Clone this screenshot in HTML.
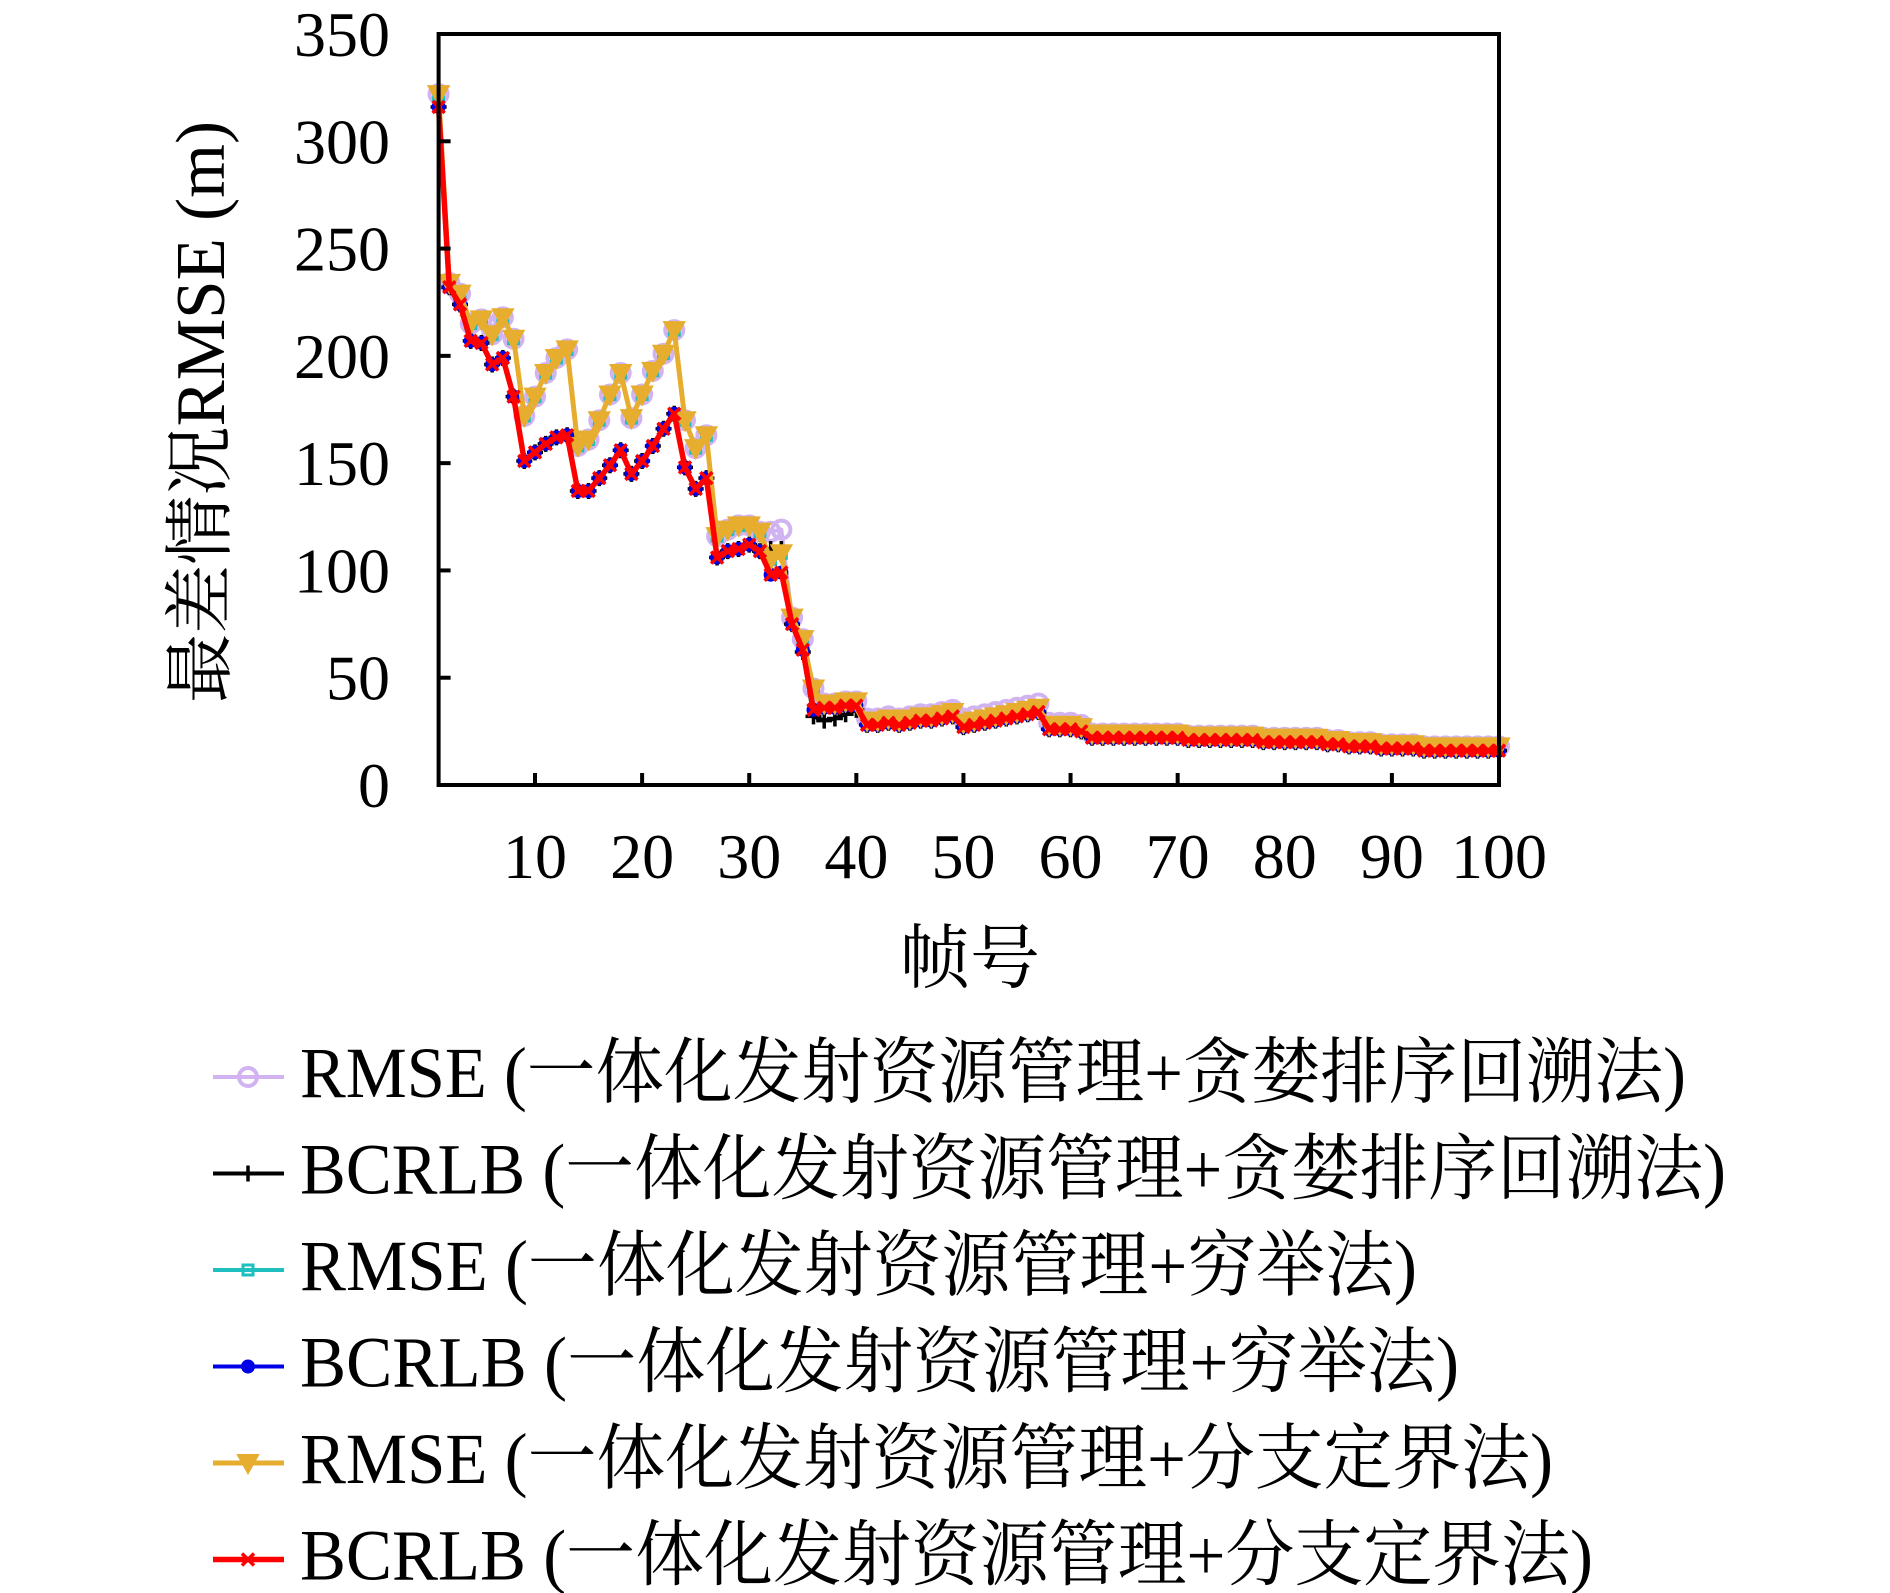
<!DOCTYPE html>
<html><head><meta charset="utf-8"><style>
html,body{margin:0;padding:0;background:#fff;}
svg{display:block;}
text{font-family:"Liberation Serif","Noto Serif CJK SC","Noto Sans CJK SC",serif;fill:#000;}
</style></head><body>
<svg id="chart" width="1890" height="1593" viewBox="0 0 1890 1593" xmlns="http://www.w3.org/2000/svg">
<g id="plot"></g>
<g id="axes"></g>
<g id="legend"></g>
</svg>
<script>
const yTicks = [0,50,100,150,200,250,300,350];
const xTicks = [10,20,30,40,50,60,70,80,90,100];
const tailRed = [28,28,29,28,29,30,30,31,32,27,28,29,30,31,32,33,34,26,26,26,25,22,22,22,22,22,22,22,22,22,21,21,21,21,21,21,21,20,20,20,20,20,20,19,19,18,18,18,17,17,17,17,16,16,16,16,16,16,16,16];
const bcrlbBB = [316,232,224,207,206,196,199,181,151,155,159,162,163,137,137,143,149,156,145,151,158,166,173,148,138,143,106,109,110,112,109,98,99,75,63,35,36,36,37,37].concat(tailRed);
const rmseBB = [322,234,229,215,217,210,218,208,172,181,192,199,203,158,161,170,182,192,171,182,193,201,212,170,157,163,116,119,121,121,118,105,108,78,68,45,38,38,39,39,30,30,31,30,31,32,32,33,34,29,30,31,32,33,34,35,36,28,28,28,27,24,24,24,24,24,24,24,24,24,23,23,23,23,23,23,23,22,22,22,22,22,22,21,21,20,20,20,19,19,19,19,18,18,18,18,18,18,18,18];
const rmseEx = [321,234,229,215,217,210,218,208,172,181,192,199,203,158,161,170,182,192,171,182,193,201,212,170,157,163,116,119,121,121,118,105,108,78,68,45,38,38,39,39,30,30,31,30,31,32,32,33,34,29,30,31,32,33,34,35,36,28,28,28,27,24,24,24,24,24,24,24,24,24,23,23,23,23,23,23,23,22,22,22,22,22,22,21,21,20,20,20,19,19,19,19,18,18,18,18,18,18,18,18];
const bcrlbEx = [316,232,224,207,206,196,199,181,151,155,159,162,163,137,137,143,149,156,145,151,158,166,173,148,138,143,106,109,110,112,109,98,99,75,63,35,36,36,37,37].concat(tailRed);
const rmseGr = [322,234,229,215,217,210,218,208,172,181,192,199,203,158,161,170,182,192,171,182,193,201,212,170,157,163,116,119,121,121,118,118,119,78,68,45,38,38,39,39,31,31,32,31,32,33,33,34,35,31,32,33,34,35,36,37,38,29,29,29,28,24,24,24,24,24,24,24,24,24,23,23,23,23,23,23,23,22,22,22,22,22,22,21,21,20,20,20,19,19,19,19,18,18,18,18,18,18,18,18];
const bcrlbGr = [316,232,224,207,206,196,199,181,151,155,159,162,163,137,137,143,149,156,145,151,158,166,173,148,138,143,106,109,110,112,109,110,110,75,62,32,30,31,33,35].concat(tailRed);
const seriesLabels = ["RMSE (一体化发射资源管理+贪婪排序回溯法)","BCRLB (一体化发射资源管理+贪婪排序回溯法)","RMSE (一体化发射资源管理+穷举法)","BCRLB (一体化发射资源管理+穷举法)","RMSE (一体化发射资源管理+分支定界法)","BCRLB (一体化发射资源管理+分支定界法)"];

const NS="http://www.w3.org/2000/svg";
const L=438.6,R=1499,T=34,B=785;
function xs(v){return L+(v-1)*(R-L)/99;}
function ys(v){return B-v*(B-T)/350;}
function mk(tag,attrs,parent){const e=document.createElementNS(NS,tag);for(const k in attrs)e.setAttribute(k,attrs[k]);parent.appendChild(e);return e;}
const plot=document.getElementById('plot'),axes=document.getElementById('axes'),legend=document.getElementById('legend');

function marker(type,color,x,y,g){
  let e;
  if(type==='circle'){e=mk('circle',{cx:x,cy:y,r:9,fill:'none',stroke:color,'stroke-width':4},g);}
  else if(type==='plus'){e=mk('path',{d:`M${x-8} ${y}H${x+8}M${x} ${y-8}V${y+8}`,stroke:color,'stroke-width':3.5},g);}
  else if(type==='square'){e=mk('rect',{x:x-5,y:y-5,width:10,height:10,fill:'none',stroke:color,'stroke-width':3},g);}
  else if(type==='dot'){e=mk('circle',{cx:x,cy:y,r:7,fill:color},g);}
  else if(type==='tri'){e=mk('path',{d:`M${x-10} ${y-8}L${x+10} ${y-8}L${x} ${y+10}Z`,fill:color,stroke:color,'stroke-width':2},g);}
  else {e=mk('path',{d:`M${x-6} ${y-6}L${x+6} ${y+6}M${x-6} ${y+6}L${x+6} ${y-6}`,stroke:color,'stroke-width':3.5},g);}
  return e;
}
const series=[
 {d:rmseGr,c:'#d1b3f2',m:'circle',w:4},
 {d:bcrlbGr,c:'#000000',m:'plus',w:4},
 {d:rmseEx,c:'#1fbfbf',m:'square',w:4},
 {d:bcrlbEx,c:'#0000e6',m:'dot',w:4},
 {d:rmseBB,c:'#e6ad2e',m:'tri',w:5},
 {d:bcrlbBB,c:'#ff0000',m:'x',w:5.5}
];
series.forEach((s,i)=>{
  const g=mk('g',{},plot);
  
  
  const pts=s.d.map((v,j)=>xs(j+1)+','+ys(v)).join(' ');
  const pl=mk('polyline',{points:pts,fill:'none',stroke:s.c,'stroke-width':s.w,'stroke-linejoin':'round'},g);
  
  
  s.d.forEach((v,j)=>{const m=marker(s.m,s.c,xs(j+1),ys(v),g);
    
    });
});
const fr=mk('rect',{x:L,y:T,width:R-L,height:B-T,fill:'none',stroke:'#000','stroke-width':4},axes);


yTicks.forEach(v=>{
  const y=ys(v);
  const t=mk('line',{x1:L,x2:L+12,y1:y,y2:y,stroke:'#000','stroke-width':4},axes);
  
  
  const tx=mk('text',{x:390,y:y+22,'text-anchor':'end','font-size':64},axes);
  tx.textContent=v;
  
  
});
xTicks.forEach(v=>{
  const x=xs(v);
  const t=mk('line',{x1:x,x2:x,y1:B,y2:B-12,stroke:'#000','stroke-width':4},axes);
  
  
  const tx=mk('text',{x:x,y:878,'text-anchor':'middle','font-size':64},axes);
  tx.textContent=v;
  
  
});
const yt=mk('text',{x:0,y:0,'text-anchor':'middle','font-size':70,transform:'translate(224,412) rotate(-90)',textLength:582,lengthAdjust:'spacingAndGlyphs'},axes);
yt.textContent='最差情况RMSE (m)';


const xt=mk('text',{x:970,y:982,'text-anchor':'middle','font-size':70},axes);
xt.textContent='帧号';


const widths=[1386,1426,1117,1159,1253,1293];
series.forEach((s,i)=>{
  const y=1077+i*96.5;
  const g=mk('g',{},legend);
  
  
  mk('line',{x1:213,x2:284,y1:y,y2:y,stroke:s.c,'stroke-width':s.w},g);
  marker(s.m,s.c,248,y,g);
  const t=mk('text',{x:300,y:y+20,'font-size':72,textLength:widths[i],lengthAdjust:'spacingAndGlyphs'},g);
  t.textContent=seriesLabels[i];
  
  
});
</script>
</body></html>
